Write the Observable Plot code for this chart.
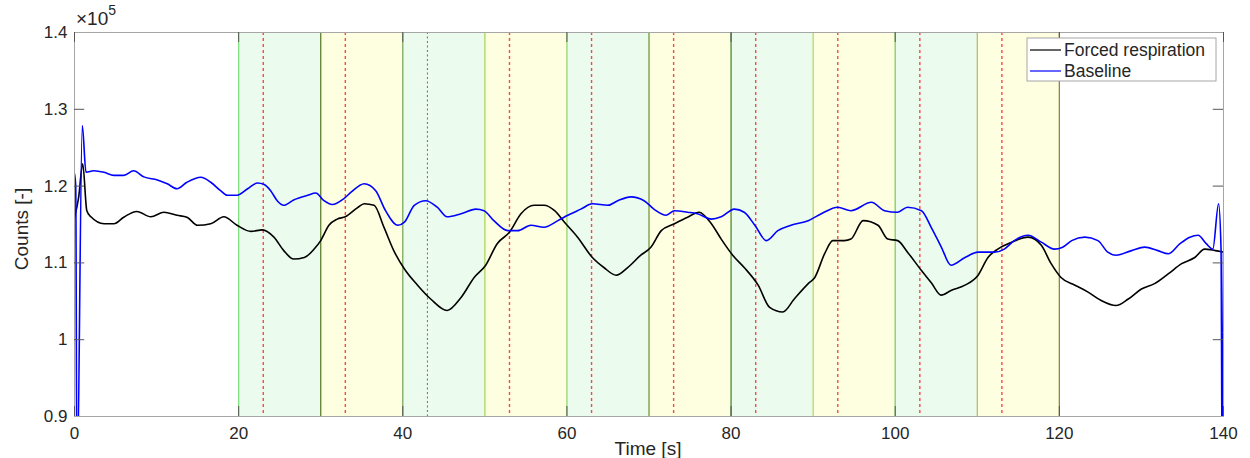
<!DOCTYPE html>
<html>
<head>
<meta charset="utf-8">
<script src="https://cdn.jsdelivr.net/npm/d3@7"></script>
<script src="https://cdn.jsdelivr.net/npm/@observablehq/plot@0.6"></script>
<style>
  html, body { margin: 0; padding: 0; background: #fff; }
  #chart { width: 1250px; height: 458px; }
</style>
</head>
<body>
<div id="chart"></div>
<script>
// ---- Data ----
const forcedTime = [0,0.5,1.0,1.5,2.0,3.6,4.8,6.0,7.6,9.3,10.9,12.5,13.7,15.0,16.6,18.2,19.8,21.5,22.9,24.3,25.5,26.7,28.0,29.2,30.0,31.0,32.0,33.0,34.5,35.3,36.5,37.7,38.9,40.2,41.8,43.4,45.4,47.1,48.7,50.1,51.5,53.0,54.4,56.0,57.2,58.5,59.7,61.3,63.1,64.5,66.0,67.4,69.0,70.2,71.5,73.1,74.7,76.1,77.6,78.8,80.2,81.6,83.3,84.7,86.3,87.7,89.4,90.2,91.4,92.4,93.8,94.6,96.1,97.9,99.1,100.3,101.5,103.2,104.4,105.6,106.8,108.5,110.1,111.3,112.5,114.2,116.2,117.8,119.0,120.2,121.9,123.5,125.1,126.9,128.4,130.0,131.6,133.3,134.9,136.5,137.7,139.0,140];
const forcedCounts = [115900,118500,122900,116800,116000,115100,115100,115950,116700,116000,116600,116200,115950,114900,115100,116000,114900,114100,114300,113350,111600,110500,110700,111800,112900,114900,115700,116000,117200,117700,117500,114650,111600,109200,107100,105300,103800,105500,108100,109700,112500,114000,116400,117500,117500,116800,115300,113350,110700,109400,108400,109400,111000,112000,114200,115100,115950,116600,115100,113100,111000,109400,107100,104200,103600,105300,107300,108100,111200,112900,112900,113100,115500,114900,113100,112900,111400,109000,107400,105800,106400,107100,108400,110700,111800,112700,113350,112300,109900,108100,107100,106200,105100,104450,105300,106600,107300,108600,109900,110700,111800,111600,111400];

const baseTime = [0,0.15,0.3,0.95,1.4,2.35,3.6,4.8,6.0,7.2,8.45,10.1,11.3,12.5,13.7,15.4,16.6,17.8,18.6,19.8,21.1,22.3,23.1,23.9,24.7,25.5,26.7,28.4,29.4,30.4,31.4,32.8,33.7,35.3,36.7,37.9,39.4,40.2,41.4,42.8,44.2,45.4,47.1,48.9,49.9,51.1,52.8,54.0,55.6,57.2,58.9,60.1,61.7,63.1,65.0,66.2,67.8,69.4,70.6,72.1,73.1,74.7,75.9,77.6,78.8,80.4,81.6,82.9,84.3,85.7,87.3,89.4,91.0,93.0,94.6,97.1,98.7,100.3,101.5,103.2,104.4,105.6,106.8,108.5,110.1,112.1,113.3,114.5,116.2,117.8,119.4,120.4,121.5,123.1,124.7,125.9,126.9,128.8,130.4,132.0,133.3,134.7,135.9,136.9,137.9,138.7,139.4,139.7,139.85,140];
const baseCounts = [121600,120000,80000,127900,121800,122000,121800,121400,121400,122000,121200,120800,120300,119650,120500,121160,120500,119400,118800,118800,119650,120400,120200,119400,118100,117500,118200,118800,119100,118100,117600,118350,119200,120300,119400,116800,114900,115300,117500,118100,117250,116000,116400,117000,116800,115500,114200,114200,114900,114650,115500,116200,117000,117700,117500,118100,118600,118100,117000,116200,116800,116600,116400,115700,116000,117000,116600,114900,112900,114200,114900,115500,116400,117250,116800,117900,116800,116600,117250,116800,114600,112100,109700,110700,111400,111400,111800,112900,113600,112700,111800,112050,112900,113350,112900,111400,111000,111600,112050,111600,111200,112500,113350,113600,112500,111800,117700,111800,80000,111500];

// Phases (10 s each) and the marker times inside them
const phaseStart = [20,30,40,50,60,70,80,90,100,110];
const phaseKind  = ["green","yellow","green","yellow","green","yellow","green","yellow","green","yellow"];
const boundaries = [20,30,40,50,60,70,80,90,100,110,120];
const markers    = [23,33,53,63,73,83,93,103,113];
const markersFine = [43];

const xTicks = [0,20,40,60,80,100,120,140];
const yTicks = [90000,100000,110000,120000,130000,140000];

const seriesNames = ["Forced respiration","Baseline"];

// ---- styles ----
const phaseFill = {green: "#ebfbee", yellow: "#fefee0"};
const boundaryColors = ["#7fe07f","#5e7f2e","#7aa85a","#a8d65c","#98d66a","#6e9a3c","#4f8a2a","#b0d870","#86cc55","#a8c070","#8a8a3a"];

const forced = forcedTime.map((t,i)=>({t, v: forcedCounts[i]}));
const base = baseTime.map((t,i)=>({t, v: baseCounts[i]}));
const bands = phaseStart.map((s,i)=>({x1: s, x2: s + 10, kind: phaseKind[i]}));

const Y0 = 90000, Y1 = 140000;
const tickLenX = 1.25;   // ~10 px in x data units
const tickLenY = 1300;   // ~10 px in y data units
const yInner = yTicks.filter(d => d > Y0 && d < Y1);

const fmtY = d => String(+(d/1e5).toFixed(1));

const plot = Plot.plot({
  width: 1250,
  height: 458,
  marginLeft: 74,
  marginRight: 27,
  marginTop: 32,
  marginBottom: 42,
  x: {domain: [0, 140]},
  y: {domain: [Y0, Y1]},
  color: {type: "identity"},
  style: {fontFamily: "'Liberation Sans', Arial, sans-serif", fontSize: "17px", color: "#262626", background: "#fff"},
  marks: [
    Plot.rect(bands, {x1: "x1", x2: "x2", fill: d => phaseFill[d.kind]}),
    Plot.ruleX(boundaries, {x: d => d, stroke: (d,i) => boundaryColors[i], strokeWidth: 1.3}),
    Plot.ruleX(markers, {x: d => d, stroke: "#ff4545", strokeDasharray: "3,3", strokeWidth: 1.4}),
    Plot.ruleX(markersFine, {x: d => d, stroke: "#d84040", strokeDasharray: "2,2.5", strokeWidth: 1}),
    Plot.line(forced, {x: "t", y: "v", stroke: "#000", strokeWidth: 1.6, curve: "monotone-x", clip: true}),
    Plot.line(base, {x: "t", y: "v", stroke: "#0000ff", strokeWidth: 1.6, curve: "monotone-x", clip: true}),
    Plot.frame({stroke: "#a6a6a6", strokeWidth: 1}),
    // inward ticks
    Plot.ruleY(yInner, {y: d => d, x1: 0, x2: tickLenX, stroke: "#555", strokeWidth: 1}),
    Plot.ruleY(yInner, {y: d => d, x1: 140 - tickLenX, x2: 140, stroke: "#555", strokeWidth: 1}),
    Plot.ruleX(xTicks, {x: d => d, y1: Y0, y2: Y0 + tickLenY, stroke: "#555", strokeWidth: 1}),
    Plot.ruleX(xTicks, {x: d => d, y1: Y1 - tickLenY, y2: Y1, stroke: "#555", strokeWidth: 1}),
    Plot.axisX({ticks: xTicks, tickSize: 0, tickPadding: 10, label: null, fill: "#262626"}),
    Plot.axisY({ticks: yTicks, tickSize: 0, tickPadding: 7, tickFormat: fmtY, label: null, fill: "#262626"})
  ]
});

document.getElementById("chart").appendChild(plot);

// ---- annotations: axis titles, exponent, legend ----
const svg = d3.select(plot);
const ff = "'Liberation Sans', Arial, sans-serif";

svg.append("text")
  .attr("transform", "translate(28,229) rotate(-90)")
  .attr("text-anchor", "middle")
  .attr("font-family", ff).attr("font-size", 19).attr("fill", "#262626")
  .text("Counts [-]");

svg.append("text")
  .attr("x", 648).attr("y", 455)
  .attr("text-anchor", "middle")
  .attr("font-family", ff).attr("font-size", 19).attr("fill", "#262626")
  .text("Time [s]");

const expo = svg.append("text")
  .attr("x", 76).attr("y", 25)
  .attr("text-anchor", "start")
  .attr("font-family", ff).attr("font-size", 19).attr("fill", "#262626");
expo.append("tspan").text("×10");
expo.append("tspan").attr("dy", -10).attr("font-size", 14).text("5");

const lg = svg.append("g").attr("text-anchor", "start");
lg.append("rect").attr("x", 1027).attr("y", 38).attr("width", 189).attr("height", 43)
  .attr("fill", "#fff").attr("stroke", "#a6a6a6").attr("stroke-width", 1);
const legendColors = ["#000", "#0000ff"];
seriesNames.forEach((name, i) => {
  const y = 50 + i * 21;
  lg.append("line").attr("x1", 1030).attr("x2", 1061).attr("y1", y).attr("y2", y)
    .attr("stroke", legendColors[i]).attr("stroke-width", 1.2);
  lg.append("text").attr("x", 1064).attr("y", y).attr("dy", "0.35em")
    .attr("text-anchor", "start")
    .attr("font-family", ff).attr("font-size", 17.5).attr("fill", "#262626")
    .text(name);
});
</script>
</body>
</html>
